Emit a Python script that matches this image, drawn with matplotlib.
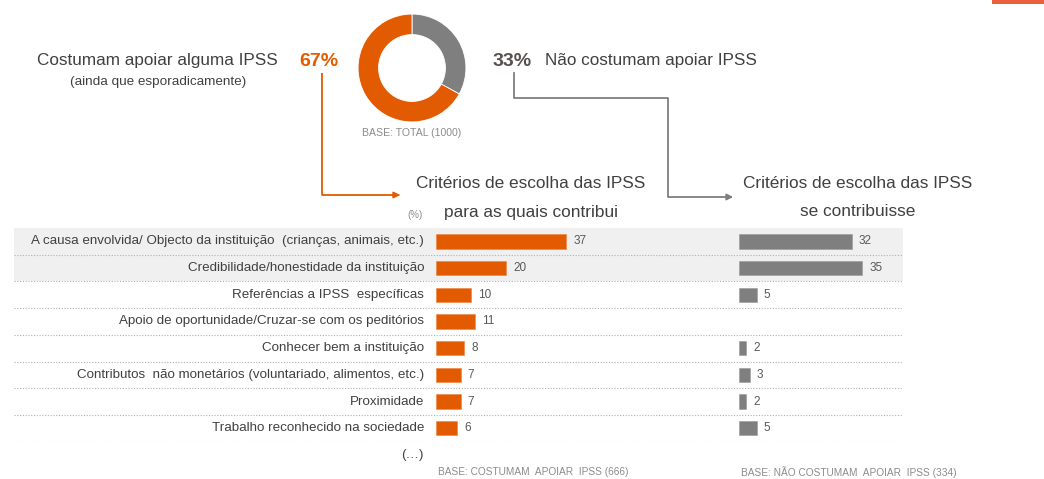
import numpy as np
import matplotlib
matplotlib.use("Agg")
import matplotlib.pyplot as plt
from matplotlib import font_manager as fm
from matplotlib.patches import Rectangle

# ---------------- data ----------------
categories = [
    "A causa envolvida/ Objecto da instituição  (crianças, animais, etc.)",
    "Credibilidade/honestidade da instituição",
    "Referências a IPSS  específicas",
    "Apoio de oportunidade/Cruzar-se com os peditórios",
    "Conhecer bem a instituição",
    "Contributos  não monetários (voluntariado, alimentos, etc.)",
    "Proximidade",
    "Trabalho reconhecido na sociedade",
]
contribui = [37, 20, 10, 11, 8, 7, 7, 6]
se_contribuisse = [32, 35, 5, np.nan, 2, 3, 2, 5]
donut_labels = ["Não costumam apoiar IPSS", "Costumam apoiar alguma IPSS"]
donut_values = [33, 67]
header_left = ["Critérios de escolha das IPSS", "para as quais contribui"]
header_right = ["Critérios de escolha das IPSS", "se contribuisse"]

ORANGE = "#E35B00"
GRAY = "#7F7F7F"
TXT = "#404040"
LIGHT = "#8C8C8C"

names = {f.name for f in fm.fontManager.ttflist}
FONT = ["Liberation Sans Narrow", "Liberation Sans", "DejaVu Sans"]
FONT = [f for f in FONT if f in names] or ["DejaVu Sans"]
plt.rcParams["font.family"] = FONT

W, H = 1044, 479
fig = plt.figure(figsize=(W / 100, H / 100), dpi=100)

def px_axes(x0, y0, x1, y1, **kw):
    return fig.add_axes([x0 / W, 1 - y1 / H, (x1 - x0) / W, (y1 - y0) / H], **kw)

# overlay axes in pixel coordinates
ov = px_axes(0, 0, W, H)
ov.set_xlim(0, W)
ov.set_ylim(H, 0)
ov.axis("off")
ov.set_zorder(0)

# top-right decoration
ov.add_patch(Rectangle((992, 0), 52, 3.5, color="#E8603C", lw=0))

# ---------------- donut ----------------
axd = px_axes(357, 13, 467, 123)
axd.pie(donut_values, colors=[GRAY, ORANGE], startangle=90, counterclock=False,
        radius=1.0, wedgeprops=dict(width=0.38, edgecolor="white", linewidth=0.6))
axd.set_aspect("equal")
axd.set_xlim(-1.02, 1.02)
axd.set_ylim(-1.02, 1.02)

ov.text(412, 133, "BASE: TOTAL (1000)", ha="center", va="center", fontsize=7.6, color=LIGHT)

ov.text(278, 60, donut_labels[1], ha="right", va="center", fontsize=12.3, color=TXT)
ov.text(158, 82, "(ainda que esporadicamente)", ha="center", va="center", fontsize=9.7, color=TXT)
ov.text(319, 61, f"{donut_values[1]}%", ha="center", va="center", fontsize=14,
        color=ORANGE, fontweight="bold")
ov.text(512, 61, f"{donut_values[0]}%", ha="center", va="center", fontsize=14,
        color="#595050", fontweight="bold")
ov.text(545, 60, donut_labels[0], ha="left", va="center", fontsize=12.3, color=TXT)

# connectors
ov.plot([322, 322, 396], [73, 195, 195], color=ORANGE, lw=1.3, solid_capstyle="butt")
ov.annotate("", xy=(403, 195), xytext=(394, 195),
            arrowprops=dict(arrowstyle="-|>", color=ORANGE, lw=1.3, mutation_scale=9))
ov.plot([514, 514, 668, 668, 728], [73, 98, 98, 197, 197], color=GRAY, lw=1.3)
ov.annotate("", xy=(736, 197), xytext=(726, 197),
            arrowprops=dict(arrowstyle="-|>", color=GRAY, lw=1.3, mutation_scale=9))

# headers
for yy, tl, tr in zip([184, 212], header_left, header_right):
    ov.text(531, yy, tl, ha="center", va="center", fontsize=12.4, color=TXT)
    ov.text(858, yy, tr, ha="center", va="center", fontsize=12.4, color=TXT)
ov.text(415, 215, "(%)", ha="center", va="center", fontsize=7, color=LIGHT)

# ---------------- rows ----------------
n = len(categories)
row_h = 26.7
top = 228
bottom = top + n * row_h
ypos = np.arange(n)

axr = px_axes(14, top, 903, bottom)
axr.set_xlim(0, 1)
axr.set_ylim(n - 0.5, -0.5)
axr.axis("off")
axr.set_zorder(1)
axr.axhspan(-0.5, 1.5, color="#F0F0F0", lw=0)
for i in range(n):
    axr.axhline(i + 0.5, color="#B0B0B0", lw=0.8, ls=(0, (1, 1.5)))
lab_x = (424 - 14) / (903 - 14)
for y, c in zip(ypos, categories):
    axr.text(lab_x, y, c, ha="right", va="center", fontsize=9.6, color=TXT)
axr.text(lab_x, n + 0.0, "(…)", ha="right", va="center", fontsize=9.6, color=TXT, clip_on=False)

SCALE = 3.52  # pixels per percentage point

def bar_axes(x0, width_px):
    ax = px_axes(x0, top, x0 + width_px, bottom)
    ax.set_xlim(0, width_px / SCALE)
    ax.set_ylim(n - 0.5, -0.5)
    ax.axis("off")
    ax.patch.set_alpha(0)
    ax.set_zorder(2)
    return ax

ax1 = bar_axes(436, 250)
ax1.barh(ypos, contribui, height=0.54, color=ORANGE, edgecolor="#F08040", lw=0.4)
for y, v in zip(ypos, contribui):
    ax1.text(v + 2.0, y, f"{v}", ha="left", va="center", fontsize=8.5, color="#595959")

ax2 = bar_axes(739, 160)
gv = np.array(se_contribuisse, dtype=float)
mask = ~np.isnan(gv)
ax2.barh(ypos[mask], gv[mask], height=0.54, color=GRAY, edgecolor="#999999", lw=0.4)
for y, v in zip(ypos[mask], gv[mask]):
    ax2.text(v + 2.0, y, f"{int(v)}", ha="left", va="center", fontsize=8.5, color="#595959")

ov.text(438, 472, "BASE: COSTUMAM  APOIAR  IPSS (666)", ha="left", va="center",
        fontsize=7.3, color=LIGHT)
ov.text(741, 472, "BASE: NÃO COSTUMAM  APOIAR  IPSS (334)", ha="left", va="center",
        fontsize=7.3, color=LIGHT)

fig.savefig("out.png", dpi=100)
